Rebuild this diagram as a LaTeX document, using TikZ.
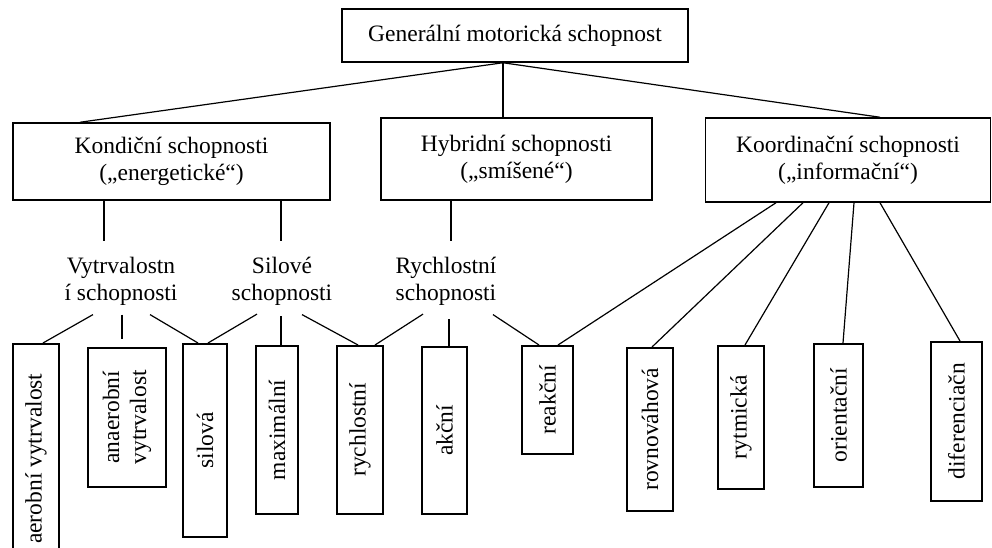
\documentclass[tikz,border=0pt]{standalone}
\usepackage{fontspec}
\setmainfont{Liberation Serif}

\begin{document}
\begin{tikzpicture}[x=1pt,y=-1pt,line width=1.2pt]
\tikzstyle{every node}=[font=\fontsize{23.5}{27}\selectfont]
\tikzstyle{box}=[draw,line width=1.5pt,align=center,inner sep=0pt]
\tikzstyle{vbox}=[box,rotate=90,anchor=east]
\tikzstyle{group}=[align=center]
	\clip (0,0) rectangle (992,548);
	% top level
	\node[box,minimum width=346pt,minimum height=53pt] (gen) at (515,35.5) {Generální motorická schopnost};
	\node[box,minimum width=317pt,minimum height=77pt] (kon) at (171.5,161.5) {Kondiční schopnosti\\(„energetické“)};
	\node[box,minimum width=271pt,minimum height=82pt] (hyb) at (516.5,159) {Hybridní schopnosti\\(„smíšené“)};
	\node[box,minimum width=285pt,minimum height=84pt] (koo) at (848,160) {Koordinační schopnosti\\(„informační“)};
	\coordinate (g) at ([xshift=-12pt]gen.south);
	\draw (g) -- ([xshift=-91.5pt]kon.north);
	\draw (g) -- (g |- hyb.north);
	\draw (g) -- ([xshift=32pt]koo.north);
	% groups
	\node[group] (vyt) at (121,281) {Vytrvalostn\\í schopnosti};
	\node[group] (sil) at (282,281) {Silové\\schopnosti};
	\node[group] (ryc) at (446,281) {Rychlostní\\schopnosti};
	\draw ([xshift=-67.5pt]kon.south) -- ([xshift=-17pt,yshift=12pt]vyt.north);
	\draw ([xshift=109.5pt]kon.south) -- ([xshift=-1pt,yshift=12pt]sil.north);
	\draw ([xshift=-65.5pt]hyb.south) -- ([xshift=5pt,yshift=12pt]ryc.north);
	% leaves
	\node[vbox,minimum width=230pt,minimum height=46pt] (aer) at (36,343) {aerobní vytrvalost};
	\node[vbox,minimum width=139pt,minimum height=78pt] (ana) at (127,347) {anaerobní\\vytrvalost};
	\node[vbox,minimum width=193pt,minimum height=44pt] (svl) at (205,343) {silová};
	\node[vbox,minimum width=168pt,minimum height=42pt] (max) at (277,345) {maximální};
	\node[vbox,minimum width=168pt,minimum height=46pt] (rch) at (360,345) {rychlostní};
	\node[vbox,minimum width=167pt,minimum height=45pt] (akc) at (444.5,346) {akční};
	\node[vbox,minimum width=108pt,minimum height=51pt] (rea) at (547.5,345) {reakční};
	\node[vbox,minimum width=163pt,minimum height=46pt] (rov) at (650,347) {rovnováhová};
	\node[vbox,minimum width=143pt,minimum height=46pt] (ryt) at (741,345) {rytmická};
	\node[vbox,minimum width=143pt,minimum height=49pt] (ori) at (838.5,343) {orientační};
	\node[vbox,minimum width=159pt,minimum height=51pt] (dif) at (956.5,341) {diferenciačn};
	\draw ([xshift=-28pt,yshift=-5.5pt]vyt.south) -- ([xshift=7pt]aer.east);
	\draw ([xshift=1pt,yshift=-5.5pt]vyt.south) -- ([xshift=-5pt,yshift=8pt]ana.east);
	\draw ([xshift=29pt,yshift=-5.5pt]vyt.south) -- ([xshift=-7pt]svl.east);
	\draw ([xshift=-25pt,yshift=-5pt]sil.south) -- ([xshift=3pt]svl.east);
	\draw ([xshift=-1pt,yshift=-7pt]sil.south) -- ([xshift=4pt]max.east);
	\draw ([xshift=20pt,yshift=-5.5pt]sil.south) -- ([xshift=-2pt]rch.east);
	\draw ([xshift=-23pt,yshift=-5pt]ryc.south) -- ([xshift=15pt]rch.east);
	\draw ([xshift=3pt,yshift=-10pt]ryc.south) -- ([xshift=4.5pt]akc.east);
	\draw ([xshift=47pt,yshift=-5.5pt]ryc.south) -- ([xshift=-8.5pt]rea.east);
	\draw ([xshift=-72pt]koo.south) -- ([xshift=10.5pt]rea.east);
	\draw ([xshift=-45pt]koo.south) -- ([xshift=2pt]rov.east);
	\draw ([xshift=-19pt]koo.south) -- ([xshift=4pt]ryt.east);
	\draw ([xshift=6pt]koo.south) -- ([xshift=4.5pt]ori.east);
	\draw ([xshift=32pt]koo.south) -- ([xshift=3.5pt]dif.east);
\end{tikzpicture}
\end{document}
